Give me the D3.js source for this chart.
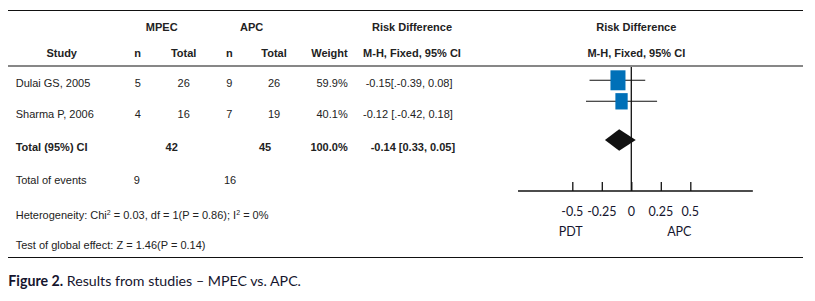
<!DOCTYPE html>
<html>
<head>
<meta charset="utf-8">
<script src="https://cdn.jsdelivr.net/npm/d3@7"></script>
<style>
  html, body { margin: 0; padding: 0; background: #fff; }
  svg { display: block; }
</style>
</head>
<body>
<svg id="chart" width="815" height="301"></svg>
<script>
// ---------- data ----------
const studies    = ["Dulai GS, 2005", "Sharma P, 2006"];
const mpecN      = [5, 4];
const mpecTotal  = [26, 16];
const apcN       = [9, 7];
const apcTotal   = [26, 19];
const weights    = [59.9, 40.1];
const rdText     = ["-0.15[.-0.39, 0.08]", "-0.12 [.-0.42, 0.18]"];
const rd         = [-0.15, -0.12];
const ciLow      = [-0.39, -0.42];
const ciHigh     = [0.08, 0.18];

const totalLabel     = "Total (95%) CI";
const totalMpec      = 42;
const totalApc       = 45;
const totalWeight    = "100.0%";
const totalRdText    = "-0.14 [0.33, 0.05]";
const pooledRd       = -0.14;
const diamondLow     = -0.26;   // drawn extent
const diamondHigh    = 0.0;

const eventsLabel    = "Total of events";
const eventsMpec     = 9;
const eventsApc      = 16;

const tickValues     = [-0.5, -0.25, 0, 0.25, 0.5];
const tickLabels     = ["-0.5", "-0.25", "0", "0.25", "0.5"];
const axisDomain     = [-0.96, 1.03];
const favoursLeft    = "PDT";
const favoursRight   = "APC";

// ---------- drawing ----------
const svg = d3.select("#chart");
svg.append("rect").attr("width", 815).attr("height", 301).attr("fill", "#fff");

const TXT = "#222";
const tfont = "'Liberation Sans', Arial, sans-serif";
const afont = "Lato, 'Open Sans', sans-serif";

// horizontal rules
[[10.5, 1.2], [66, 1.2], [257.5, 1.2]].forEach(([y, w]) => {
  svg.append("line").attr("x1", 8).attr("x2", 803).attr("y1", y).attr("y2", y)
    .attr("stroke", "#111").attr("stroke-width", w);
});

function txt(x, y, s, opts = {}) {
  return svg.append("text")
    .attr("x", x).attr("y", y)
    .attr("font-family", opts.family || tfont)
    .attr("font-size", opts.size || 11)
    .attr("font-weight", opts.bold ? "bold" : "normal")
    .attr("text-anchor", opts.anchor || "start")
    .attr("fill", opts.fill || TXT)
    .text(s);
}

// column positions
const col = { study: 15.7, mN: 137.7, mT: 183.7, aN: 229.3, aT: 274, wt: 347.7, rd: 364 };

// headers
txt(161.7, 31, "MPEC", { bold: true, anchor: "middle" });
txt(251.7, 31, "APC", { bold: true, anchor: "middle" });
txt(412, 31, "Risk Difference", { bold: true, anchor: "middle" });
txt(636.3, 31, "Risk Difference", { bold: true, anchor: "middle" });
txt(61.7, 56.7, "Study", { bold: true, anchor: "middle" });
txt(col.mN, 56.7, "n", { bold: true, anchor: "middle" });
txt(col.mT, 56.7, "Total", { bold: true, anchor: "middle" });
txt(col.aN, 56.7, "n", { bold: true, anchor: "middle" });
txt(col.aT, 56.7, "Total", { bold: true, anchor: "middle" });
txt(col.wt, 56.7, "Weight", { bold: true, anchor: "end" });
txt(412, 56.7, "M-H, Fixed, 95% CI", { bold: true, anchor: "middle" });
txt(636.3, 56.7, "M-H, Fixed, 95% CI", { bold: true, anchor: "middle" });

// study rows
const rowBase = [86.5, 118.3];
studies.forEach((s, i) => {
  const y = rowBase[i];
  txt(col.study, y, s);
  txt(col.mN, y, mpecN[i], { anchor: "middle" });
  txt(col.mT, y, mpecTotal[i], { anchor: "middle" });
  txt(col.aN, y, apcN[i], { anchor: "middle" });
  txt(col.aT, y, apcTotal[i], { anchor: "middle" });
  txt(col.wt, y, weights[i].toFixed(1) + "%", { anchor: "end" });
  txt(i === 0 ? 365.7 : 363, y, rdText[i]);
});

// total row
txt(col.study, 151, totalLabel, { bold: true });
txt(171.7, 151, totalMpec, { bold: true, anchor: "middle" });
txt(265, 151, totalApc, { bold: true, anchor: "middle" });
txt(col.wt, 151, totalWeight, { bold: true, anchor: "end" });
txt(370.7, 151, totalRdText, { bold: true });

// events row
txt(col.study, 184.3, eventsLabel);
txt(136.7, 184.3, eventsMpec, { anchor: "middle" });
txt(230, 184.3, eventsApc, { anchor: "middle" });

// heterogeneity
const het = txt(col.study, 219, "");
het.append("tspan").text("Heterogeneity: Chi");
het.append("tspan").attr("font-size", 7).attr("dy", -4).text("2");
het.append("tspan").attr("dy", 4).text(" = 0.03, df = 1(P = 0.86); I");
het.append("tspan").attr("font-size", 7).attr("dy", -4).text("2");
het.append("tspan").attr("dy", 4).text(" = 0%");

txt(col.study, 249, "Test of global effect: Z = 1.46(P = 0.14)");

// caption
const cap = svg.append("text").attr("x", 8.3).attr("y", 285.7)
  .attr("font-family", afont).attr("font-size", 14.2).attr("fill", "#15152e");
cap.append("tspan").attr("font-weight", "bold").text("Figure 2.");
cap.append("tspan").text(" Results from studies \u2013 MPEC vs. APC.");

// ---------- forest plot ----------
const x = d3.scaleLinear().domain([-0.5, 0.5]).range([572.3, 690.3]);   // axis
const xm = d3.scaleLinear().domain([-0.5, 0.5]).range([576.5, 695]);   // marks
const axisY = 191;

// zero line
svg.append("line").attr("x1", x(0)).attr("x2", x(0)).attr("y1", 67).attr("y2", axisY)
  .attr("stroke", "#111").attr("stroke-width", 1.3);

// axis
const axisG = svg.append("g").attr("transform", `translate(0,${axisY})`);
axisG.append("line").attr("x1", x(axisDomain[0])).attr("x2", x(axisDomain[1]))
  .attr("stroke", "#111").attr("stroke-width", 1.3);
const axis = d3.axisTop(x).tickValues(tickValues).tickSize(9).tickFormat("");
const ag = svg.append("g").attr("transform", `translate(0,${axisY})`).call(axis);
ag.select(".domain").remove();
ag.selectAll(".tick line").attr("stroke", "#111").attr("stroke-width", 1.3);
tickValues.forEach((v, i) => {
  svg.append("text").attr("x", x(v)).attr("y", 216)
    .attr("font-family", afont).attr("font-size", 12.5).attr("text-anchor", "middle")
    .attr("fill", "#15152e").text(tickLabels[i]);
});
svg.append("text").attr("x", 570.7).attr("y", 236).attr("font-family", afont)
  .attr("font-size", 12.5).attr("text-anchor", "middle").attr("fill", "#15152e").text(favoursLeft);
svg.append("text").attr("x", 679.3).attr("y", 236).attr("font-family", afont)
  .attr("font-size", 12.5).attr("text-anchor", "middle").attr("fill", "#15152e").text(favoursRight);

// study CIs and boxes
const rowY = [80.3, 101.3];
const bw = d3.scaleSqrt().domain([0, 100]).range([0, 19.4]);
const bh = d3.scaleSqrt().domain([0, 100]).range([0, 25.8]);
studies.forEach((s, i) => {
  svg.append("line").attr("x1", xm(ciLow[i])).attr("x2", xm(ciHigh[i]))
    .attr("y1", rowY[i]).attr("y2", rowY[i]).attr("stroke", "#111").attr("stroke-width", 1.1);
  const w = bw(weights[i]), h = bh(weights[i]);
  svg.append("rect").attr("x", xm(rd[i]) - w / 2).attr("y", rowY[i] - h / 2)
    .attr("width", w).attr("height", h).attr("fill", "#0070b8");
});

// diamond
const dy = 140, dh = 10.7;
svg.append("path")
  .attr("d", `M${xm(diamondLow)},${dy} L${xm(pooledRd)},${dy - dh} L${xm(diamondHigh)},${dy} L${xm(pooledRd)},${dy + dh} Z`)
  .attr("fill", "#111");
</script>
</body>
</html>
